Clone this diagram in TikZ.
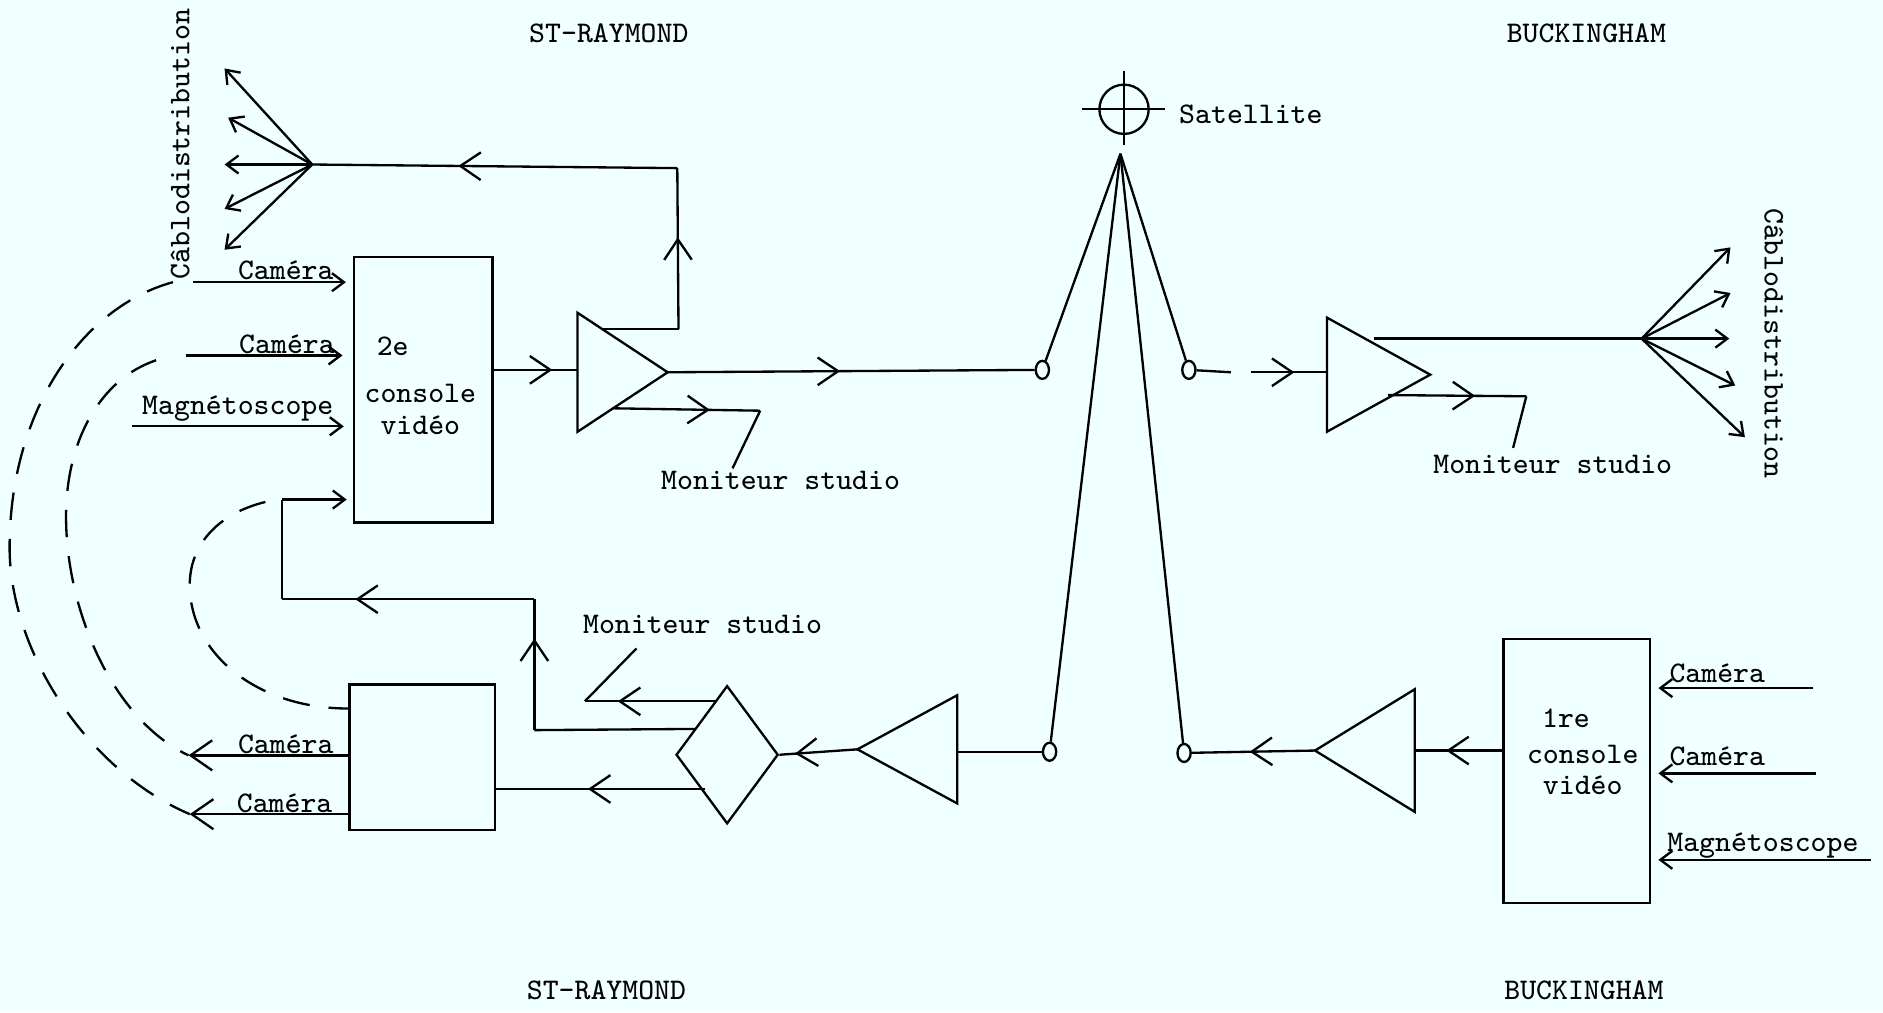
\documentclass[tikz,border=0pt]{standalone}
\usepackage{tikz}
\usetikzlibrary{arrows.meta, positioning, shapes.geometric, decorations.markings}
\usepackage{xcolor}
\definecolor{scanbg}{HTML}{F0FFFF}

\begin{document}
\begin{tikzpicture}[
      x=0.01cm, y=-0.01cm,
      line width=0.55pt,
      >={Straight Barb[length=1mm,width=1.5mm]},
      lbl/.style={inner sep=0pt, align=center, font=\ttfamily\fontsize{7.1}{7.4}\selectfont},
      consolebox/.style={rectangle, draw},
      amp/.style={isosceles triangle, isosceles triangle stretches, draw, inner sep=0pt, outer sep=0pt},
      dish/.style={ellipse, draw, inner sep=0pt, minimum width=0.11cm, minimum height=0.15cm},
      midarr/.style={postaction=decorate, decoration={markings,
        mark=at position #1 with {\arrow{Straight Barb[length=1.7mm,width=2.3mm]}}}},
      bigtip/.style={-{Straight Barb[length=1.8mm,width=2.5mm]}},
      dashline/.style={dash pattern=on 6.5pt off 4.5pt}
    ]
    \path[fill=scanbg] (0,0) rectangle (1568,843);
    \useasboundingbox (0,0) rectangle (1568,843);

    % site names
    \node[lbl] (strtop) at (507,28) {ST-RAYMOND};
    \node[lbl] (bucktop) at (1321,28) {BUCKINGHAM};
    \node[lbl] (strbot) at (505,825) {ST-RAYMOND};
    \node[lbl] (buckbot) at (1319,825) {BUCKINGHAM};

    % satellite
    \node[circle, draw, minimum size=0.41cm, inner sep=0pt] (sat) at (936,91) {};
    \node[lbl, anchor=west] (satl) at (981,95) {Satellite};
    \coordinate (satw) at (901,91);
    \coordinate (sate) at (970,91);
    \coordinate (satn) at (936,59);
    \coordinate (sats) at (936,121);
    \coordinate (apex) at (933,128);
    \draw (satw) -- (sate);
    \draw (satn) -- (sats);

    % boxes
    \node[consolebox, minimum width=1.15cm, minimum height=2.21cm] (cons2) at (352.5,324.5) {};
    \node[consolebox, minimum width=1.21cm, minimum height=1.21cm] (regie) at (351.5,630.5) {};
    \node[consolebox, minimum width=1.22cm, minimum height=2.2cm] (cons1) at (1313,642) {};
    \node[lbl] (cons2a) at (327,288) {2e};
    \node[lbl] (cons2b) at (350,341) {console\\vid\'eo};
    \node[lbl] (cons1a) at (1304,598) {1re};
    \node[lbl] (cons1b) at (1318,641) {console\\vid\'eo};

    % amplifiers
    \node[amp, minimum width=0.99cm, minimum height=0.75cm, anchor=apex] (amp1) at (556,310) {};
    \node[amp, minimum width=0.95cm, minimum height=0.86cm, anchor=apex] (amp2) at (1191,312) {};
    \node[amp, minimum width=0.90cm, minimum height=0.83cm, anchor=apex, shape border rotate=180] (amp3) at (714,624) {};
    \node[amp, minimum width=1.02cm, minimum height=0.83cm, anchor=apex, shape border rotate=180] (amp4) at (1095,625) {};
    \node[diamond, draw, inner sep=0pt, aspect=0.74, minimum width=0.85cm, minimum height=1.15cm] (split) at (605.5,628.5) {};

    % dishes
    \node[dish] (dishnw) at (868,308) {};
    \node[dish] (dishne) at (990,308) {};
    \node[dish] (dishsw) at (874,626) {};
    \node[dish] (dishse) at (986,627) {};
    \foreach \d in {dishnw,dishne,dishsw,dishse}
      \draw (apex) -- (\d);

    % upper left chain
    \coordinate (huble) at (260,137);
    \coordinate (cornup) at (564,140);
    \coordinate (amp1top) at (501,274);
    \coordinate (cornlow) at (565,274);
    \foreach \i/\x/\y in {1/187/57, 2/190/98, 3/187/137, 4/187/174, 5/187/208} {
      \coordinate (fanl\i) at (\x,\y);
      \draw[->] (huble) -- (fanl\i);
    }
    \node[lbl, rotate=90] (cablel) at (150,120) {C\^ablodistribution};
    \draw (amp1top) -- (cornlow);
    \draw[midarr=0.57] (cornlow) -- (cornup);
    \draw[midarr=0.6] (cornup) -- (huble);
    \draw[midarr=0.7] (cons2.east |- 0,308) -- (amp1.west |- 0,308);
    \draw[midarr=0.47] (amp1.east) -- (dishnw);

    % moniteur, St-Raymond
    \coordinate (mon1a) at (510,340);
    \coordinate (mon1b) at (633,342);
    \coordinate (mon1c) at (610,390);
    \node[lbl] (mon1) at (650,400) {Moniteur studio};
    \draw[midarr=0.66] (mon1a) -- (mon1b);
    \draw (mon1b) -- (mon1c);

    % inputs of 2e console
    \coordinate (camin1) at (161,235);
    \coordinate (camin2) at (155,296);
    \coordinate (magin) at (110,355);
    \node[lbl] (camin1l) at (238,225) {Cam\'era};
    \node[lbl] (camin2l) at (239,287) {Cam\'era};
    \node[lbl] (maginl) at (198,340) {Magn\'etoscope};
    \draw[->, shorten >=1.7pt] (camin1) -- (cons2.west |- camin1);
    \draw[->, shorten >=2.5pt] (camin2) -- (cons2.west |- camin2);
    \draw[->, shorten >=2.2pt] (magin) -- (cons2.west |- magin);

    % right chain
    \coordinate (gapa) at (1025,310);
    \coordinate (gapb) at (1042,310);
    \coordinate (hubri) at (1367,282);
    \coordinate (amp2top) at (1144,282);
    \draw (dishne) -- (gapa);
    \draw[midarr=0.57] (gapb) -- (amp2.west |- gapb);
    \draw (amp2top) -- (hubri);
    \foreach \i/\x/\y in {1/1441/206, 2/1441/244, 3/1440/282, 4/1445/321, 5/1453/364} {
      \coordinate (fanr\i) at (\x,\y);
      \draw[->] (hubri) -- (fanr\i);
    }
    \node[lbl, rotate=-90] (cabler) at (1477,286) {C\^ablodistribution};
    \coordinate (mon2a) at (1156,329);
    \coordinate (mon2b) at (1271,330);
    \coordinate (mon2c) at (1260,373);
    \node[lbl] (mon2) at (1293,387) {Moniteur studio};
    \draw[midarr=0.63] (mon2a) -- (mon2b);
    \draw (mon2b) -- (mon2c);

    % lower left chain
    \coordinate (backa) at (579,607);
    \coordinate (backb) at (445,608);
    \coordinate (backc) at (445,499);
    \coordinate (backd) at (235,499);
    \coordinate (backe) at (235,416);
    \draw (backa) -- (backb);
    \draw[midarr=0.7] (backb) -- (backc);
    \draw[midarr=0.71] (backc) -- (backd);
    \draw (backd) -- (backe);
    \draw[->, shorten >=1.5pt] (backe) -- (cons2.west |- backe);
    \coordinate (mon3a) at (597,584);
    \coordinate (mon3b) at (487,584);
    \coordinate (mon3c) at (530,540);
    \node[lbl] (mon3) at (585,520) {Moniteur studio};
    \draw[midarr=0.75] (mon3a) -- (mon3b);
    \draw (mon3b) -- (mon3c);
    \coordinate (splitout) at (587,657);
    \draw[midarr=0.56] (splitout) -- (regie.east |- splitout);
    \draw[midarr=0.8] (amp3.apex) -- (split.east);
    \draw (dishsw) -- (amp3.east |- dishsw);
    \coordinate (camout1) at (157,629);
    \coordinate (camout2) at (158,678);
    \draw[bigtip] (regie.west |- camout1) -- (camout1);
    \draw[bigtip] (regie.west |- camout2) -- (camout2);
    \node[lbl] (camout1l) at (238,620) {Cam\'era};
    \node[lbl] (camout2l) at (237,669) {Cam\'era};

    % lower right chain
    \draw[midarr=0.64] (cons1.west |- amp4.apex) -- (amp4.east |- amp4.apex);
    \draw[midarr=0.53] (amp4.apex) -- (dishse);
    \coordinate (camr1) at (1510,573);
    \coordinate (camr2) at (1512,644);
    \coordinate (magr) at (1558,716);
    \coordinate (camr1e) at (1381,573);
    \coordinate (camr2e) at (1381,644);
    \coordinate (magre) at (1381,716);
    \draw[->] (camr1) -- (camr1e);
    \draw[->] (camr2) -- (camr2e);
    \draw[->] (magr) -- (magre);
    \node[lbl] (camr1l) at (1430,561) {Cam\'era};
    \node[lbl] (camr2l) at (1430,630) {Cam\'era};
    \node[lbl] (magrl) at (1468,704) {Magn\'etoscope};

    % return paths
    \coordinate (reta) at (144,235);
    \coordinate (retb) at (130,300);
    \coordinate (retc) at (221,418);
    \draw[dashline] (reta) .. controls (70,255) and (8,340) .. (8,456)
      .. controls (8,540) and (70,640) .. (camout2);
    \draw[dashline] (retb) .. controls (85,315) and (55,365) .. (55,430)
      .. controls (55,510) and (95,600) .. (camout1);
    \draw[dashline] (retc) .. controls (180,428) and (158,455) .. (158,487)
      .. controls (158,545) and (215,590) .. (regie.west |- 0,590);
  \end{tikzpicture}
\end{document}
